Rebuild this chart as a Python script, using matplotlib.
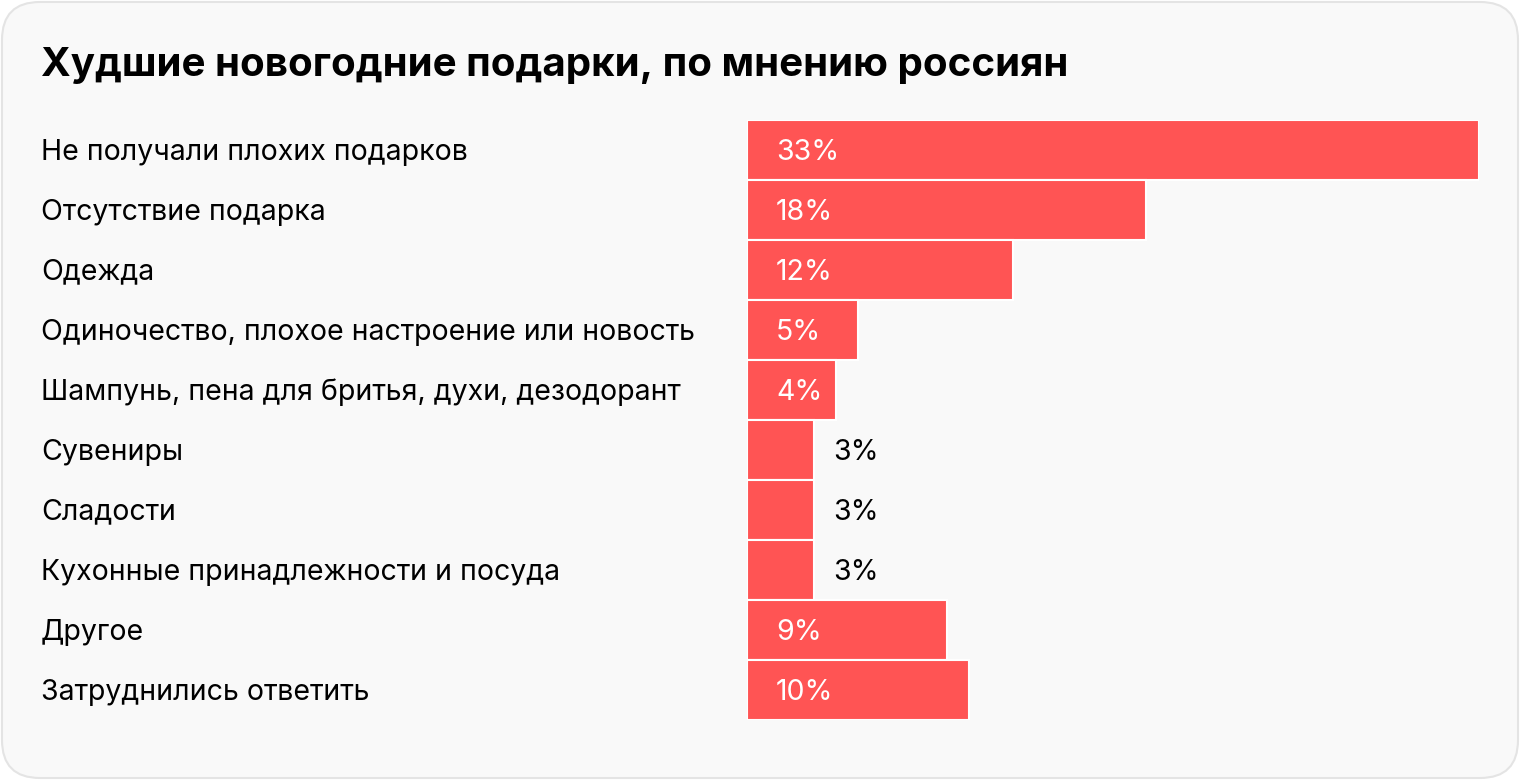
import matplotlib.pyplot as plt
from matplotlib.patches import FancyBboxPatch

plt.rcParams['font.family'] = ['Inter', 'DejaVu Sans']

title = 'Худшие новогодние подарки, по мнению россиян'
categories = [
    'Не получали плохих подарков',
    'Отсутствие подарка',
    'Одежда',
    'Одиночество, плохое настроение или новость',
    'Шампунь, пена для бритья, духи, дезодорант',
    'Сувениры',
    'Сладости',
    'Кухонные принадлежности и посуда',
    'Другое',
    'Затруднились ответить',
]
values = [33, 18, 12, 5, 4, 3, 3, 3, 9, 10]

W, H = 1520, 780
fig = plt.figure(figsize=(W / 100, H / 100), dpi=100)
fig.patch.set_facecolor('white')

# rounded card background
card = FancyBboxPatch((2 / W, 2 / H), (W - 4) / W, (H - 4) / H,
                      boxstyle='round,pad=0,rounding_size=0.025',
                      transform=fig.transFigure, facecolor='#f9f9f9',
                      edgecolor='#e4e4e4', linewidth=1.5, mutation_aspect=W / H,
                      zorder=-10)
fig.patches.append(card)

fig.text(41 / W, 1 - 66 / H, title, fontsize=29, fontweight='bold',
         va='center', ha='left', color='black')

ax = fig.add_axes([747 / W, 1 - 720 / H, 732 / W, 600 / H])
ax.set_facecolor('none')
y = list(range(len(categories)))
ax.barh(y, values, height=1.0, color='#ff5454', edgecolor='white', linewidth=1.5)
ax.set_xlim(0, 33)
ax.set_ylim(len(categories) - 0.5, -0.5)
ax.axis('off')

fs = 20.5
for i, (cat, v) in enumerate(zip(categories, values)):
    ax.annotate(cat, xy=(0, i), xycoords='data', xytext=(41 - 747, -2),
                textcoords='offset pixels', ha='left', va='center',
                fontsize=fs, color='black', annotation_clip=False)
    if v >= 4:
        ax.annotate(f'{v}%', xy=(0, i), xytext=(29, -2), textcoords='offset pixels',
                    ha='left', va='center', fontsize=fs, color='white')
    else:
        ax.annotate(f'{v}%', xy=(v, i), xytext=(20, -2), textcoords='offset pixels',
                    ha='left', va='center', fontsize=fs, color='black')

fig.savefig('out.png', dpi=100, facecolor='white')
